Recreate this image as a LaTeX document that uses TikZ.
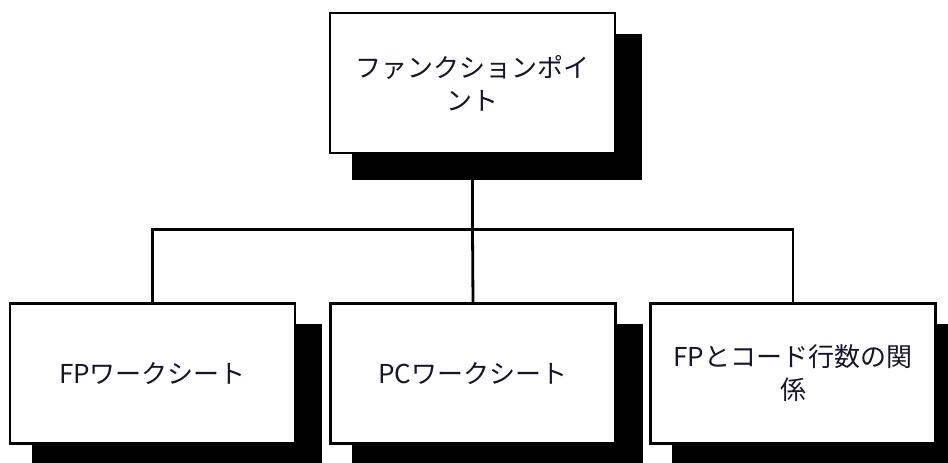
\documentclass[tikz,border=0pt]{standalone}
\usepackage{fontspec}
\setmainfont{Noto Sans CJK JP}
\usetikzlibrary{backgrounds}
\definecolor{textc}{RGB}{22,22,40}
\begin{document}
\begin{tikzpicture}[x=1pt,y=-1pt,
  box/.style={draw=black, line width=2.6pt, fill=white, minimum width=285pt, minimum height=140pt,
    inner sep=0pt, align=center, font=\fontsize{26}{33}\selectfont, text=textc},
  conn/.style={draw=black, line width=2.8pt}]
\useasboundingbox (0,0) rectangle (948,463);
\node[box] (top) at (472.5,83) {ファンクションポイ\\ント};
\node[box] (l) at (152.5,373.5) {FPワークシート};
\node[box] (m) at (473,373.5) {PCワークシート};
\node[box] (r) at (793,373.5) {FPとコード行数の関\\係};
\begin{scope}[on background layer]
  \foreach \n in {top,l,m,r}{
    \fill[black] ([shift={(23,22)}]\n.north west) rectangle ([shift={(26,26)}]\n.south east);
  }
\end{scope}
\draw[conn] (top.south) -- ++(0,75) coordinate (j);
\draw[conn] (l.north) |- (j) -| (r.north);
\draw[conn] (j) -- (m.north);
\end{tikzpicture}
\end{document}
